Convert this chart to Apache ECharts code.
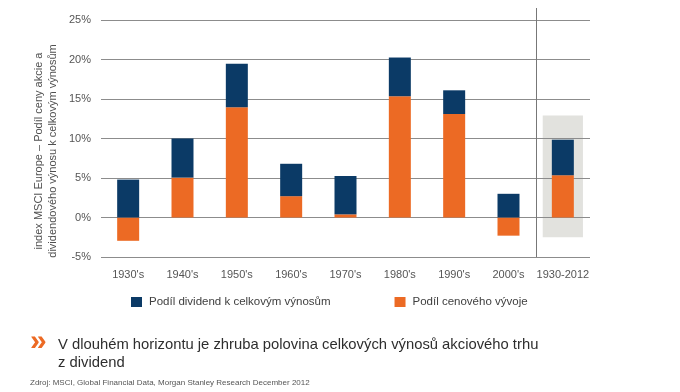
<!DOCTYPE html>
<html>
<head>
<meta charset="utf-8">
<script src="https://cdn.jsdelivr.net/npm/echarts@6/dist/echarts.min.js"></script>
<style>
html,body{margin:0;padding:0;background:#fff;}
#chart{width:680px;height:392px;}
</style>
</head>
<body>
<div id="chart"></div>
<script>
const categories = ["1930's", "1940's", "1950's", "1960's", "1970's", "1980's", "1990's", "2000's", "1930-2012"];
const priceShare = [-2.95, 5.05, 13.95, 2.7, 0.4, 15.35, 13.1, -2.3, 5.35];
const dividendShare = [4.8, 4.95, 5.5, 4.1, 4.85, 4.9, 3.0, 3.0, 4.5];
const highlightRange = [8, -2.5, 12.9];
const separatorAt = [8];
const yTicks = { min: -5, max: 25, interval: 5 };
const seriesNames = ["Podíl dividend k celkovým výnosům", "Podíl cenového vývoje"];
const yAxisTitle = "index MSCI Europe – Podíl ceny akcie a\ndividendového výnosu k celkovým výnosům";
const headline = "V dlouhém horizontu je zhruba polovina celkových výnosů akciového trhu\nz dividend";
const sourceNote = "Zdroj: MSCI, Global Financial Data, Morgan Stanley Research December 2012";

const NAVY = '#0b3a66';
const ORANGE = '#ec6a24';
const FONT = "'Liberation Sans', Arial, sans-serif";

const chart = echarts.init(document.getElementById('chart'), null, { renderer: 'canvas' });

chart.setOption({
  animation: false,
  backgroundColor: '#ffffff',
  textStyle: { fontFamily: FONT },
  grid: { left: 101, right: 90, top: 20, bottom: 135, containLabel: false },
  title: [
    { text: '»', left: 30, top: 327, padding: 0, textStyle: { color: ORANGE, fontSize: 30, fontWeight: 'bold', fontFamily: FONT } },
    { text: headline, left: 58, top: 336, padding: 0, textStyle: { color: '#2e2e2e', fontSize: 14.8, lineHeight: 18, fontWeight: 'normal', fontFamily: FONT } },
    { text: sourceNote, left: 30, top: 379, padding: 0, textStyle: { color: '#555555', fontSize: 8, fontWeight: 'normal', fontFamily: FONT } }
  ],
  legend: {
    data: seriesNames,
    left: 131, top: 296, padding: 0,
    icon: 'rect', itemWidth: 11, itemHeight: 10, itemGap: 64,
    textStyle: { color: '#404040', fontSize: 11.5, fontFamily: FONT, padding: [0, 0, 0, 2] }
  },
  graphic: [
    { type: 'text', x: 46, y: 151, rotation: Math.PI / 2,
      style: { text: yAxisTitle, align: 'center', verticalAlign: 'middle', fontSize: 11, lineHeight: 14, fill: '#505050', fontFamily: FONT } }
  ],
  xAxis: {
    type: 'category', data: categories,
    axisLine: { show: false }, axisTick: { show: false },
    axisLabel: { color: '#555555', fontSize: 11, margin: 12, interval: 0 }
  },
  yAxis: {
    type: 'value', min: yTicks.min, max: yTicks.max, interval: yTicks.interval,
    axisLine: { show: false }, axisTick: { show: false },
    axisLabel: { color: '#555555', fontSize: 11, margin: 10, formatter: '{value}%' },
    splitLine: { lineStyle: { color: '#8c8c8c', width: 1 } }
  },
  series: [
    {
      type: 'custom', name: 'highlight', z: -1, silent: true,
      encode: { x: 0, y: [1, 2] },
      data: [highlightRange],
      renderItem: function (params, api) {
        const top = api.coord([api.value(0), api.value(2)]);
        const bot = api.coord([api.value(0), api.value(1)]);
        const w = api.size([1, 0])[0] * 0.74;
        return { type: 'rect', shape: { x: top[0] - w / 2, y: top[1], width: w, height: bot[1] - top[1] }, style: { fill: '#e2e2de' } };
      }
    },
    {
      type: 'custom', name: 'separator', z: 5, silent: true,
      encode: { x: 0 },
      data: [[separatorAt[0], yTicks.min]],
      renderItem: function (params, api) {
        const c = api.coord([api.value(0), yTicks.min]);
        const topY = api.coord([api.value(0), yTicks.max])[1] - 12;
        const x = Math.round(c[0] - api.size([1, 0])[0] / 2) + 0.5;
        return { type: 'line', shape: { x1: x, y1: topY, x2: x, y2: c[1] }, style: { stroke: '#777777', lineWidth: 1 } };
      }
    },
    {
      name: seriesNames[1], type: 'bar', stack: 'total', barWidth: 22,
      itemStyle: { color: ORANGE }, data: priceShare
    },
    {
      name: seriesNames[0], type: 'bar', stack: 'total', barWidth: 22,
      itemStyle: { color: NAVY }, data: dividendShare
    }
  ]
});
</script>
</body>
</html>
